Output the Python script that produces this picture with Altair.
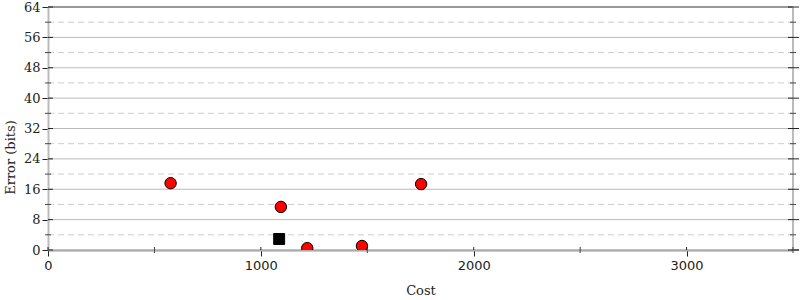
import altair as alt
import pandas as pd

# data
red_cost = [576, 1094, 1218, 1475, 1753]
red_error = [17.6, 11.35, 0.5, 1.06, 17.35]
sq_cost = [1086]
sq_error = [2.9]

x_major = [0, 1000, 2000, 3000]
x_minor = [500, 1500, 2500, 3500]
y_major = [0, 8, 16, 24, 32, 40, 48, 56, 64]
y_minor = [4, 12, 20, 28, 36, 44, 52, 60]

W, H = 745, 243
serif = "DejaVu Serif"

red = pd.DataFrame({"cost": red_cost, "err": red_error})
sq = pd.DataFrame({"cost": sq_cost, "err": sq_error})
ymaj = pd.DataFrame({"v": y_major})
ymin = pd.DataFrame({"v": y_minor})
xmin = pd.DataFrame({"v": x_minor})
xmaj = pd.DataFrame({"v": x_major})

xs = alt.Scale(domain=[0, 3500], nice=False, zero=False)
ys = alt.Scale(domain=[0, 64], nice=False, zero=False)

xaxis = alt.Axis(values=x_major, format="d", title="Cost", grid=False,
                 domainColor="#999", domainWidth=2, tickColor="#222",
                 tickSize=6, labelFont="DejaVu Sans", labelFontSize=13,
                 labelColor="#222", labelPadding=3, labelFlush=False,
                 labelOverlap=False, titleFont=serif,
                 titleFontSize=13, titleFontWeight="normal", titleColor="#222",
                 titlePadding=12)
yaxis = alt.Axis(values=y_major, format="d", title="Error (bits)", grid=False,
                 domainColor="#bbb", domainWidth=2, tickColor="#222",
                 tickSize=6, labelFont=serif, labelFontSize=13,
                 labelColor="#222", labelPadding=2, labelFlush=False,
                 labelOverlap=False, titleFont=serif,
                 titleFontSize=13, titleFontWeight="normal", titleColor="#222",
                 titleAngle=270, titleX=-38, titleY=150, titleAlign="center",
                 titleBaseline="middle")


def Y(field):
    return alt.Y(field, scale=ys, axis=yaxis, title="Error (bits)")


def X(field):
    return alt.X(field, scale=xs, axis=xaxis, title="Cost")


grid_major = alt.Chart(ymaj).mark_rule(color="#bbb", strokeWidth=1).encode(
    y=Y("v:Q"), x=alt.value(0), x2=alt.value(W))
grid_minor = alt.Chart(ymin).mark_rule(color="#ccc", strokeWidth=1, strokeDash=[6, 4]).encode(
    y=Y("v:Q"), x=alt.value(0), x2=alt.value(W))

top_line = alt.Chart(pd.DataFrame({"v": [64]})).mark_rule(color="#999", strokeWidth=2).encode(
    y=Y("v:Q"), x=alt.value(0), x2=alt.value(W))
right_line = alt.Chart(pd.DataFrame({"v": [3500]})).mark_rule(color="#bbb", strokeWidth=2).encode(
    x=X("v:Q"), y=alt.value(0), y2=alt.value(H))
bottom_ext = alt.Chart(pd.DataFrame({"v": [0]})).mark_rule(color="#999", strokeWidth=2).encode(
    y=Y("v:Q"), x=alt.value(W - 2), x2=alt.value(W + 6))

# tick decorations
left_major_in = alt.Chart(ymaj).mark_rule(color="#222", strokeWidth=1).encode(
    y=Y("v:Q"), x=alt.value(0), x2=alt.value(5))
left_minor = alt.Chart(ymin).mark_rule(color="#444", strokeWidth=1).encode(
    y=Y("v:Q"), x=alt.value(-3), x2=alt.value(3))
right_major = alt.Chart(ymaj).mark_rule(color="#222", strokeWidth=1).encode(
    y=Y("v:Q"), x=alt.value(W - 5), x2=alt.value(W + 6))
right_minor = alt.Chart(ymin).mark_rule(color="#444", strokeWidth=1).encode(
    y=Y("v:Q"), x=alt.value(W - 3), x2=alt.value(W + 3))
x_major_in = alt.Chart(xmaj).mark_rule(color="#222", strokeWidth=1).encode(
    x=X("v:Q"), y=alt.value(H - 3), y2=alt.value(H))
x_minor_t = alt.Chart(xmin).mark_rule(color="#444", strokeWidth=1).encode(
    x=X("v:Q"), y=alt.value(H - 3), y2=alt.value(H + 3))

pts = alt.Chart(red).mark_point(shape="circle", filled=True, fill="#ff0000",
                                stroke="#000", strokeWidth=1, size=130,
                                opacity=1, clip=True).encode(
    x=X("cost:Q"), y=Y("err:Q"))
sqs = alt.Chart(sq).mark_point(shape="square", filled=True, fill="#000",
                               stroke="#000", strokeWidth=1, size=120,
                               opacity=1, clip=True).encode(
    x=X("cost:Q"), y=Y("err:Q"))

chart = alt.layer(
    grid_major, grid_minor, top_line, right_line, bottom_ext,
    left_major_in, left_minor, right_major, right_minor,
    x_major_in, x_minor_t, pts, sqs
).properties(
    width=W, height=H,
    autosize=alt.AutoSizeParams(type="none"),
    padding={"left": 48, "top": 7, "right": 7, "bottom": 50},
).configure_view(stroke=None).configure(background="white")

chart.save("out.html", embed_options={"renderer": "svg", "actions": False})
